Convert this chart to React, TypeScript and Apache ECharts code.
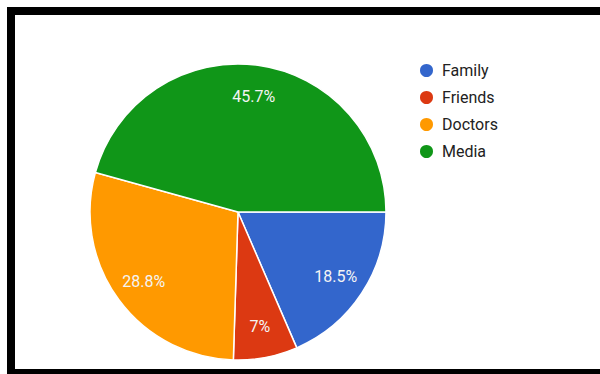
import React, { useEffect, useRef } from "react";
import * as echarts from "echarts";

const categories = ["Family", "Friends", "Doctors", "Media"];
const values = [18.5, 7, 28.8, 45.7];
const labels = ["18.5%", "7%", "28.8%", "45.7%"];
const colors = ["#3366cc", "#dc3912", "#ff9900", "#109618"];

export default function App() {
  const ref = useRef<HTMLDivElement>(null);
  useEffect(() => {
    if (!ref.current) return;
    const chart = echarts.init(ref.current, undefined, { renderer: "svg" });
    const data = categories.map((c, i) => ({ name: c, value: values[i], itemStyle: { color: colors[i] } }));
    chart.setOption({
      animation: false,
      color: colors,
      legend: {
        orient: "vertical",
        left: 418,
        top: 62,
        padding: 0,
        icon: "circle",
        itemWidth: 15,
        itemHeight: 15,
        itemGap: 10,
        textStyle: { fontFamily: "Roboto", fontSize: 16, color: "#222", padding: [0, 0, 0, 3] },
        data: categories,
      },
      series: [
        {
          type: "pie",
          center: [238, 212],
          radius: [0, 148],
          startAngle: 0,
          clockwise: true,
          silent: true,
          label: { show: false },
          labelLine: { show: false },
          itemStyle: { borderColor: "#ffffff", borderWidth: 1.5 },
          data,
        },
        {
          type: "pie",
          center: [238, 212],
          radius: [0, 228],
          startAngle: 0,
          clockwise: true,
          silent: true,
          legendHoverLink: false,
          itemStyle: { color: "rgba(0,0,0,0)" },
          label: {
            show: true,
            position: "inside",
            color: "#f4f4f4",
            fontFamily: "Roboto",
            fontSize: 16,
            formatter: (p: any) => labels[p.dataIndex],
          },
          labelLine: { show: false },
          data: categories.map((c, i) => ({ name: c, value: values[i], itemStyle: { color: "rgba(0,0,0,0)" } })),
        },
      ],
    });
    return () => chart.dispose();
  }, []);
  return (
    <div style={{ position: "fixed", left: 0, top: 0, width: 600, height: 374, background: "#fff", overflow: "hidden" }}>
      <div ref={ref} style={{ position: "absolute", left: 0, top: 0, width: 600, height: 374 }} />
      <div style={{ position: "absolute", left: 7, top: 7, width: 593, height: 8, background: "#000" }} />
      <div style={{ position: "absolute", left: 7, top: 7, width: 8, height: 367, background: "#000" }} />
      <div style={{ position: "absolute", left: 7, top: 369, width: 593, height: 5, background: "#000" }} />
    </div>
  );
}
